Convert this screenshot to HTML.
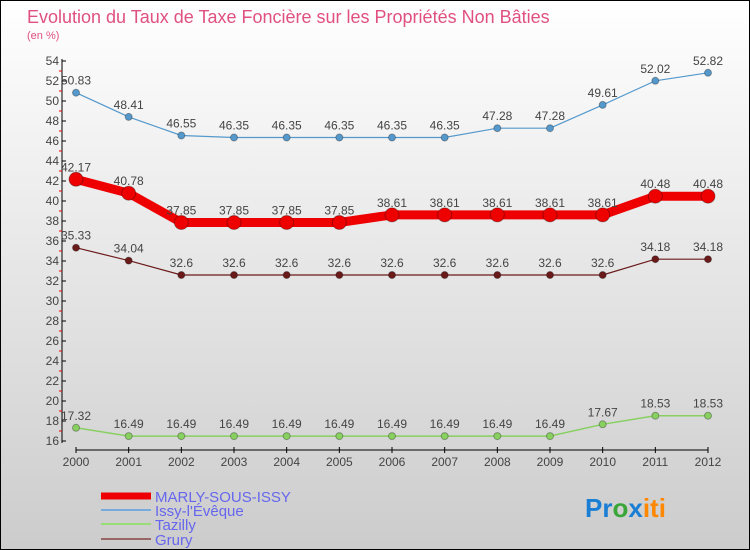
<!DOCTYPE html>
<html><head><meta charset="utf-8"><style>
body{margin:0;}
#wrap{width:750px;height:550px;position:relative;box-sizing:border-box;border:1px solid #000;background:linear-gradient(#ffffff,#cccccc);font-family:"Liberation Sans",sans-serif;overflow:hidden}
svg{position:absolute;left:0;top:0}
</style></head><body>
<div id="wrap">
<svg id="c" width="750" height="550">
<text x="26" y="22" font-size="18" fill="#e05080">Evolution du Taux de Taxe Foncière sur les Propriétés Non Bâties</text>
<text x="26" y="38" font-size="11" fill="#e05080">(en %)</text>
</svg>
</div>
<script>
const years=[2000,2001,2002,2003,2004,2005,2006,2007,2008,2009,2010,2011,2012];
const marly=[42.17,40.78,37.85,37.85,37.85,37.85,38.61,38.61,38.61,38.61,38.61,40.48,40.48];
const issy=[50.83,48.41,46.55,46.35,46.35,46.35,46.35,46.35,47.28,47.28,49.61,52.02,52.82];
const tazilly=[17.32,16.49,16.49,16.49,16.49,16.49,16.49,16.49,16.49,16.49,17.67,18.53,18.53];
const grury=[35.33,34.04,32.6,32.6,32.6,32.6,32.6,32.6,32.6,32.6,32.6,34.18,34.18];
const yTicks=[16,18,20,22,24,26,28,30,32,34,36,38,40,42,44,46,48,50,52,54];
const svg=document.getElementById('c');
const NS='http://www.w3.org/2000/svg';
const X=i=>75+i*(707-75)/12;
const Y=v=>440-(v-16)*10;
function mk(t,a){const e=document.createElementNS(NS,t);for(const k in a)e.setAttribute(k,a[k]);svg.appendChild(e);return e;}
let e=mk('line',{x1:61,y1:58,x2:61,y2:442,stroke:'#000'});


e=mk('line',{x1:75,y1:449,x2:707,y2:449,stroke:'#000'});


yTicks.forEach(v=>{
 const t=mk('line',{x1:61,x2:65,y1:Y(v),y2:Y(v),stroke:'#000'});
 
 
 const m=mk('line',{x1:58,x2:61,y1:Y(v+1),y2:Y(v+1),stroke:'#e00'});
 if(v===54)m.remove();
 const l=mk('text',{x:58,y:Y(v)+4,'font-size':12,'text-anchor':'end',fill:'#444'});
 l.textContent=v;
 
 
});
years.forEach((y,i)=>{
 const t=mk('line',{x1:X(i),x2:X(i),y1:446,y2:452,stroke:'#000'});
 
 
 const l=mk('text',{x:X(i),y:465,'font-size':12,'text-anchor':'middle',fill:'#444'});
 l.textContent=y;
 
 
});
function series(vals,color,w,r,name){
 const p=mk('polyline',{points:vals.map((v,i)=>X(i)+','+Y(v)).join(' '),fill:'none',stroke:color,'stroke-width':w});
 
 
 vals.forEach((v,i)=>{
  const c=mk('circle',{cx:X(i),cy:Y(v),r:r,fill:color,stroke:'rgba(0,0,0,0.3)','stroke-width':1});
  
  
  const l=mk('text',{x:X(i),y:Y(v)-8,'font-size':12,'text-anchor':'middle',fill:'#444'});
  l.textContent=String(v);
  
  
 });
}
series(issy,'#5599cc',1.2,3.5,'issy');
series(grury,'#6b1a1a',1.2,3.5,'grury');
series(tazilly,'#88d060',1.5,3.5,'tazilly');
series(marly,'#ee0000',9,7,'marly');
const leg=[['MARLY-SOUS-ISSY','#ee0000',7,495],['Issy-l\'Évêque','#77aadd',2,509],['Tazilly','#99dd77',2,523],['Grury','#996666',2,538]];
leg.forEach(([n,c,w,y])=>{
 const s=mk('line',{x1:100,x2:150,y1:y,y2:y,stroke:c,'stroke-width':w});
 
 
 const t=mk('text',{x:154,y:y+6,'font-size':15,fill:'#6666ee'});
 t.textContent=n;
 
 
});
const logo=mk('text',{x:584,y:516,'font-size':26,'font-weight':'bold'});
logo.innerHTML='<tspan fill="#1a7fd4">Pr</tspan><tspan fill="#3aa63a">o</tspan><tspan fill="#1a7fd4">x</tspan><tspan fill="#ff8800">iti</tspan>';


</script>
</body></html>
